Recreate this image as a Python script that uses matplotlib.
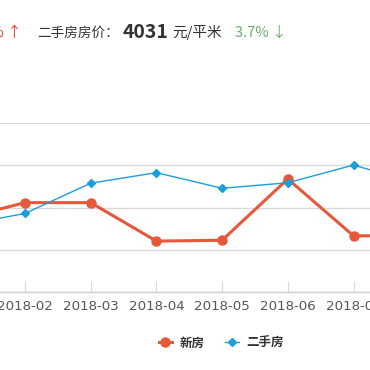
import matplotlib
matplotlib.use("Agg")
import matplotlib.pyplot as plt
from matplotlib.lines import Line2D

plt.rcParams['font.family'] = ['Noto Sans CJK SC', 'DejaVu Sans']

months = ["2018-01", "2018-02", "2018-03", "2018-04", "2018-05", "2018-06", "2018-07", "2018-08"]
new_house = [3440, 4230, 4230, 2410, 2450, 5350, 2660, 2660]
second_house = [3130, 3720, 5150, 5650, 4910, 5170, 6010, 5110]
y_ticks = [0, 2000, 4000, 6000, 8000]

W = H = 370
fig = plt.figure(figsize=(3.7, 3.7), dpi=100)

def fy(py):
    return 1 - py / H

ax = fig.add_axes([0, fy(292), 1, 169 / H])
x = list(range(len(months)))
ax.plot(x, new_house, color='#e5583a', lw=2.2, marker='o', ms=6.5, zorder=3, clip_on=True)
ax.plot(x, second_house, color='#1b9fdb', lw=1.0, marker='D', ms=4.5, zorder=4, clip_on=True)

ax.set_yticks(y_ticks)
ax.set_yticklabels([])
ax.tick_params(axis='y', length=0)
ax.grid(axis='y', color='#d9d9d9', lw=1)
ax.set_axisbelow(True)
for s in ['top', 'right', 'left']:
    ax.spines[s].set_visible(False)
ax.spines['bottom'].set_color('#d0d0d0')
ax.spines['bottom'].set_linewidth(1)
ax.set_xticks(x)
ax.set_xticklabels(months, fontsize=9.6, color='#555555', family=['DejaVu Sans'])
ax.tick_params(axis='x', direction='in', length=8, color='#d9d9d9', pad=6)

step = 65.7
x0 = 1 - 25 / step
x1 = 1 + 345 / step
ax.set_xlim(x0, x1)
ax.set_ylim(0, 8000)

# header
ty = fy(33)
fig.text(22 / W, ty, "2.1% ↑", ha='right', va='center', fontsize=10.5, color='#e0452f')
fig.text(37 / W, ty, "二手房房价：", ha='left', va='center', fontsize=9.8, color='#333333')
fig.text(123 / W, ty, "4031", ha='left', va='center', fontsize=14, color='#333333', fontweight='bold')
fig.text(172 / W, ty, "元/平米", ha='left', va='center', fontsize=10.5, color='#333333')
fig.text(235 / W, ty, "3.7% ↓", ha='left', va='center', fontsize=10.5, color='#6aae6a')

handles = [
    Line2D([], [], color='#e5583a', lw=2.2, marker='o', ms=6.5),
    Line2D([], [], color='#1b9fdb', lw=1.0, marker='D', ms=4.5),
]
fig.legend(handles, ["新房", "二手房"], loc='center', bbox_to_anchor=(221 / W, fy(343)),
           ncol=2, frameon=False, handlelength=1.1, handletextpad=0.6, columnspacing=1.6,
           prop={'family': ['Noto Sans CJK SC', 'DejaVu Sans'], 'size': 9, 'weight': 'bold'},
           labelcolor='#333333')

fig.savefig("out.png", dpi=100)
